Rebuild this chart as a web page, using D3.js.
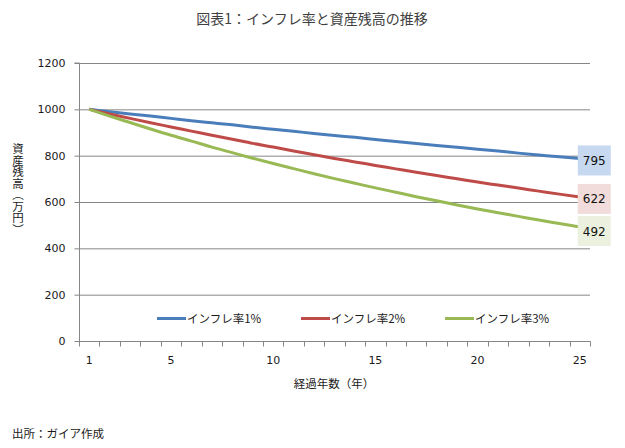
<!DOCTYPE html>
<html><head><meta charset="utf-8">
<script src="https://cdn.jsdelivr.net/npm/d3@7/dist/d3.min.js"></script>
<style>
html,body{margin:0;padding:0;background:#fff;}
text{font-family:"Noto Sans CJK JP","Noto Sans",sans-serif;}
</style></head>
<body><svg id="c" width="625" height="448"></svg>
<script>
const years = d3.range(1, 26);
const seriesNames = ["インフレ率1%", "インフレ率2%", "インフレ率3%"];
const rate1 = [1000,990,980,971,961,951,942,933,923,914,905,896,887,879,870,861,853,844,836,828,820,811,803,795,788];
const rate2 = [1000,980,961,942,924,906,888,871,853,837,820,804,788,773,758,743,728,714,700,686,673,660,647,634,622];
const rate3 = [1000,971,943,915,888,863,837,813,789,766,744,722,701,681,661,642,623,605,587,570,554,538,522,507,492];
const endLabels = ["795", "622", "492"];
const yTicks = [0,200,400,600,800,1000,1200];
const xTickLabels = [1,5,10,15,20,25];
const colors = ["#4a7ebb", "#be4b48", "#98b954"];
const boxFills = ["#c6d9f0", "#f2dcdb", "#ebf1de"];

const svg = d3.select("#c");
const L = 79, R = 590, T = 63, B = 341;
const x = d3.scaleBand().domain(years).range([L, R]);
const y = d3.scaleLinear().domain([0, 1200]).range([B, T]);
const gray = "#868686";

svg.append("text").attr("x", 312).attr("y", 24).attr("text-anchor", "middle")
  .attr("font-size", 14).attr("fill", "#404040").text("図表1：インフレ率と資産残高の推移");

// gridlines
svg.append("g").selectAll("line").data(yTicks.filter(d => d > 0)).join("line")
  .attr("x1", L).attr("x2", R).attr("y1", d => y(d) + 0.5).attr("y2", d => y(d) + 0.5)
  .attr("stroke", gray).attr("stroke-width", 1);

// y axis
const ya = svg.append("g").attr("transform", `translate(${L + 0.5},0)`)
  .call(d3.axisLeft(y).tickValues(yTicks).tickFormat(d3.format("d")).tickSize(5).tickPadding(6));
ya.select(".domain").attr("stroke", gray).attr("d", `M-5,${T}H0V${B + 0.5}`);
ya.selectAll(".tick line").attr("stroke", gray);
ya.selectAll(".tick").attr("transform", d => `translate(0,${y(d) + 0.5})`);
ya.selectAll("text").attr("font-size", 11).attr("fill", "#1a1a1a")
  .style("font-family", "Verdana,'DejaVu Sans',sans-serif").attr("x", -14);

// x axis
const xa = svg.append("g").attr("transform", `translate(0,${B + 0.5})`);
xa.append("line").attr("x1", L).attr("x2", R + 0.5).attr("stroke", gray);
const bounds = d3.range(0, 26).map(i => L + i * x.bandwidth());
xa.selectAll("line.tk").data(bounds).join("line").attr("class", "tk")
  .attr("x1", d => Math.round(d) + 0.5).attr("x2", d => Math.round(d) + 0.5)
  .attr("y1", 0).attr("y2", 5).attr("stroke", gray);
xa.selectAll("text").data(xTickLabels).join("text")
  .attr("x", d => x(d) + x.bandwidth() / 2).attr("y", 22).attr("text-anchor", "middle")
  .attr("font-size", 11).attr("fill", "#1a1a1a")
  .style("font-family", "Verdana,'DejaVu Sans',sans-serif").text(d => d);

// axis titles
svg.append("text").attr("x", 334).attr("y", 388).attr("text-anchor", "middle")
  .attr("font-size", 11.5).attr("fill", "#1a1a1a").text("経過年数（年）");
svg.append("text").attr("x", 18).attr("y", 143)
  .style("writing-mode", "vertical-rl").style("glyph-orientation-vertical", "0")
  .attr("font-size", 11.5).attr("fill", "#1a1a1a").text("資産残高（万円）");

// lines
const data = [rate1, rate2, rate3];
const line = d3.line().x((d, i) => x(years[i]) + x.bandwidth() / 2).y(d => y(d))
  .curve(d3.curveMonotoneX);
svg.append("g").selectAll("path").data(data).join("path")
  .attr("d", d => line(d)).attr("fill", "none")
  .attr("stroke", (d, i) => colors[i]).attr("stroke-width", 3).attr("stroke-linejoin", "round");

// end labels
data.forEach((d, i) => {
  const px = x(years[years.length - 1]) + x.bandwidth() / 2;
  const py = y(d[d.length - 1]);
  const cy = py + 2 + (i === 2 ? 2 : 0);
  svg.append("rect").attr("x", px - 2).attr("y", cy - 15).attr("width", 33).attr("height", 30)
    .attr("fill", boxFills[i]);
  svg.append("text").attr("x", px + 14.5).attr("y", cy + 4.5).attr("text-anchor", "middle")
    .attr("font-size", 12).attr("fill", "#111")
    .style("font-family", "Verdana,'DejaVu Sans',sans-serif").text(endLabels[i]);
});

// legend
const legX = [157, 301, 445];
seriesNames.forEach((n, i) => {
  svg.append("line").attr("x1", legX[i]).attr("x2", legX[i] + 29).attr("y1", 318.5).attr("y2", 318.5)
    .attr("stroke", colors[i]).attr("stroke-width", 3);
  svg.append("text").attr("x", legX[i] + 30).attr("y", 323).attr("font-size", 11.5)
    .attr("fill", "#1a1a1a").text(n);
});

svg.append("text").attr("x", 12).attr("y", 438).attr("font-size", 11.5)
  .attr("fill", "#1a1a1a").text("出所：ガイア作成");
</script></body></html>
